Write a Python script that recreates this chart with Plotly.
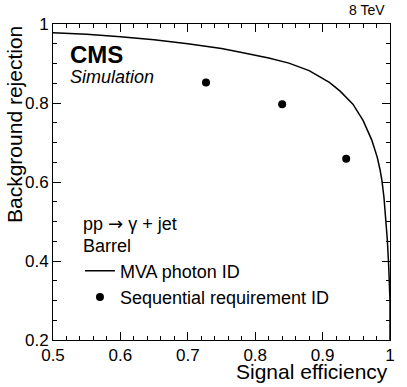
import plotly.graph_objects as go

# MVA photon ID ROC curve
mva_eff = [0.50, 0.55, 0.60, 0.65, 0.70, 0.75, 0.78, 0.82, 0.85, 0.88, 0.91,
           0.926, 0.945, 0.96, 0.973, 0.981, 0.985, 0.988, 0.991, 0.994,
           0.996, 0.998, 0.999, 1.0, 1.0]
mva_rej = [0.978, 0.974, 0.968, 0.960, 0.950, 0.938, 0.928, 0.914, 0.901,
           0.882, 0.852, 0.830, 0.797, 0.756, 0.706, 0.663, 0.633, 0.604,
           0.562, 0.505, 0.455, 0.390, 0.350, 0.30, 0.20]

# Sequential requirement ID working points
seq_eff = [0.727, 0.840, 0.935]
seq_rej = [0.852, 0.797, 0.659]

x_ticks = [0.5, 0.6, 0.7, 0.8, 0.9, 1.0]
x_labels = ["0.5", "0.6", "0.7", "0.8", "0.9", "1"]
y_ticks = [0.2, 0.4, 0.6, 0.8, 1.0]
y_labels = ["0.2", "0.4", "0.6", "0.8", "1"]

FONT = "Liberation Sans, Arial, Helvetica, sans-serif"

fig = go.Figure()

fig.add_trace(go.Scatter(
    x=mva_eff, y=mva_rej, mode="lines",
    name="MVA photon ID",
    line=dict(color="black", width=1.5)
))
fig.add_trace(go.Scatter(
    x=seq_eff, y=seq_rej, mode="markers",
    name="Sequential requirement ID",
    marker=dict(color="black", size=8, symbol="circle")
))

axis_common = dict(
    showline=True, linecolor="black", linewidth=1, mirror="allticks",
    ticks="inside", ticklen=8, tickcolor="black", tickwidth=1,
    showgrid=False, zeroline=False,
    tickfont=dict(family=FONT, size=17, color="black"),
)

fig.update_xaxes(
    range=[0.5, 1.0], tickvals=x_ticks, ticktext=x_labels,
    minor=dict(dtick=0.02, ticks="inside", ticklen=4, tickcolor="black", showgrid=False),
    **axis_common
)
fig.update_yaxes(
    range=[0.2, 1.0], tickvals=y_ticks, ticktext=y_labels,
    minor=dict(dtick=0.05, ticks="inside", ticklen=4, tickcolor="black", showgrid=False),
    **axis_common
)

annotations = [
    dict(text="Signal efficiency", xref="paper", yref="paper", x=1.0, y=-0.1,
         xanchor="right", yanchor="middle", showarrow=False,
         font=dict(family=FONT, size=21, color="black")),
    dict(text="Background rejection", xref="paper", yref="paper", x=-0.1142, y=1.0,
         xanchor="center", yanchor="top", textangle=-90, showarrow=False,
         font=dict(family=FONT, size=21, color="black")),
    dict(text="8 TeV", xref="paper", yref="paper", x=0.99, y=1.045,
         xanchor="right", yanchor="middle", showarrow=False,
         font=dict(family=FONT, size=14, color="black")),
    dict(text="<span style='font-size:24px'><b>CMS</b></span><br>"
              "<span style='font-size:18px'><i>Simulation</i></span>",
         xref="paper", yref="paper", x=0.045, y=0.875, align="left",
         xanchor="left", yanchor="middle", showarrow=False,
         font=dict(family=FONT, size=15, color="black")),
    dict(text="pp <span style='font-family:DejaVu Sans'>\u2192</span> \u03b3 + jet",
         xref="paper", yref="paper", x=0.083, y=0.37,
         xanchor="left", yanchor="middle", showarrow=False,
         font=dict(family=FONT, size=18, color="black")),
    dict(text="Barrel", xref="paper", yref="paper", x=0.083, y=0.297,
         xanchor="left", yanchor="middle", showarrow=False,
         font=dict(family=FONT, size=18, color="black")),
]

fig.update_layout(
    width=407, height=387,
    margin=dict(l=53, r=17, t=24, b=47),
    plot_bgcolor="white", paper_bgcolor="white",
    font=dict(family=FONT, color="black"),
    showlegend=True,
    legend=dict(
        x=0.08, y=0.277, xanchor="left", yanchor="top",
        bgcolor="rgba(0,0,0,0)", borderwidth=0,
        font=dict(family=FONT, size=18, color="black"),
        tracegroupgap=0, itemwidth=30,
    ),
    annotations=annotations,
)

# drop the browser's default 8px body margin so the figure fills the window
fig.write_html("out.html", config={"displayModeBar": False},
               post_script="document.body.style.margin = '0';")
